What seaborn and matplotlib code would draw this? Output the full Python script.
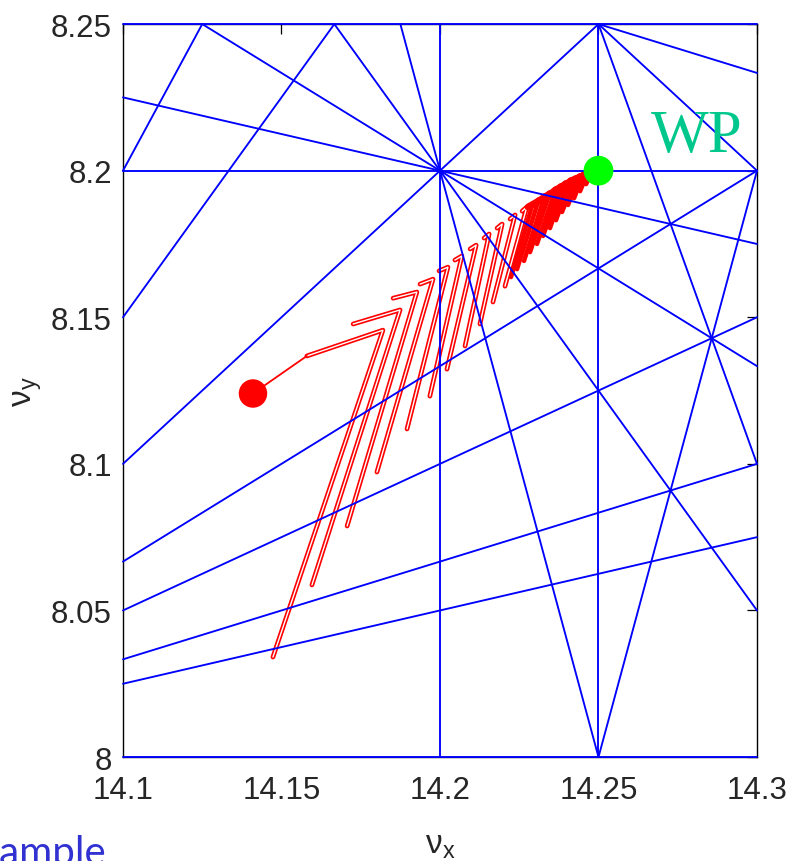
import numpy as np
import pandas as pd
import matplotlib
matplotlib.use("Agg")
import matplotlib.pyplot as plt
import matplotlib.patheffects as pe
import seaborn as sns

# Tune window
QX_LIM = (14.1, 14.3)
QY_LIM = (8.0, 8.25)

# Resonance lines m*Qx + n*Qy = p up to fifth order
res_m = [0, 0, 0, 5, 4, 1, 2, 1, 3, 1, 1, 2, 4, 4, 1, 1, 3, 3, 2, 2]
res_n = [1, 4, 5, 0, 0, -1, -1, -2, 1, 3, -3, 2, 1, -1, 4, -4, 2, -2, 3, -3]
res_p = [8, 33, 41, 71, 57, 6, 20, -2, 51, 39, -10, 45, 65, 49, 47, -18, 59, 26, 53, 4]

# Start point and working point
start_qx, start_qy = 14.141, 8.124
wp_qx, wp_qy = 14.25, 8.20

# Wide tune excursions: start of sweep -> tip -> end of sweep
wide_start_qx = [14.1580, 14.1726, 14.1852, 14.1937, 14.1997, 14.2047, 14.2095, 14.2139, 14.2180,
                 14.2221, 14.2259]
wide_start_qy = [8.1368, 8.1477, 8.1565, 8.1613, 8.1658, 8.1695, 8.1733, 8.1770, 8.1804,
                 8.1835, 8.1862]
wide_tip_qx = [14.1820, 14.1874, 14.1927, 14.1978, 14.2025, 14.2069, 14.2114, 14.2155, 14.2196,
               14.2237, 14.2274]
wide_tip_qy = [8.1456, 8.1525, 8.1586, 8.1630, 8.1671, 8.1709, 8.1746, 8.1784, 8.1818,
               8.1849, 8.1876]
wide_end_qx = [14.1473, 14.1596, 14.1707, 14.1801, 14.1896, 14.1968, 14.2022, 14.2079, 14.2126,
               14.2167, 14.2205]
wide_end_qy = [8.0341, 8.0587, 8.0788, 8.0972, 8.1119, 8.1231, 8.1323, 8.1402, 8.1477,
               8.1552, 8.1606]

# Small excursions close to the working point
near_start_qx = [14.2278, 14.2297, 14.2315, 14.2334, 14.2353, 14.2369, 14.2385, 14.2401,
                 14.2416, 14.2432, 14.2448, 14.2461, 14.2473]
near_start_qy = [8.1876, 8.1889, 8.1903, 8.1917, 8.1930, 8.1941, 8.1951, 8.1961,
                 8.1971, 8.1978, 8.1985, 8.1992, 8.1995]
near_tip_qx = [14.2293, 14.2312, 14.2331, 14.2347, 14.2366, 14.2382, 14.2397, 14.2413,
               14.2429, 14.2442, 14.2454, 14.2467, 14.2480]
near_tip_qy = [8.1889, 8.1903, 8.1917, 8.1927, 8.1941, 8.1951, 8.1961, 8.1971,
               8.1978, 8.1985, 8.1992, 8.1995, 8.1999]
near_end_qx = [14.2224, 14.2243, 14.2265, 14.2284, 14.2306, 14.2325, 14.2347, 14.2366,
               14.2385, 14.2404, 14.2423, 14.2442, 14.2461]
near_end_qy = [8.1637, 8.1664, 8.1692, 8.1722, 8.1750, 8.1777, 8.1804, 8.1831,
               8.1859, 8.1883, 8.1906, 8.1930, 8.1954]

x_ticks = [14.1, 14.15, 14.2, 14.25, 14.3]
x_tick_labels = ["14.1", "14.15", "14.2", "14.25", "14.3"]
y_ticks = [8.0, 8.05, 8.1, 8.15, 8.2, 8.25]
y_tick_labels = ["8", "8.05", "8.1", "8.15", "8.2", "8.25"]


def clip_to_window(m, n, p):
    """End points of the resonance line inside the tune window."""
    (x0, x1), (y0, y1) = QX_LIM, QY_LIM
    eps = 1e-9
    pts = []
    if n != 0:
        for x in (x0, x1):
            y = (p - m * x) / n
            if y0 - eps <= y <= y1 + eps:
                pts.append((x, y))
    if m != 0:
        for y in (y0, y1):
            x = (p - n * y) / m
            if x0 - eps <= x <= x1 + eps:
                pts.append((x, y))
    pts = sorted(set((round(a, 9), round(b, 9)) for a, b in pts))
    return pts[0], pts[-1]


def sweep_frame(sx, sy, tx, ty, ex, ey):
    rows = []
    for k in range(len(sx)):
        for step, (x, y) in enumerate([(sx[k], sy[k]), (tx[k], ty[k]), (ex[k], ey[k])]):
            rows.append(dict(sweep=k, step=step, qx=x, qy=y))
    return pd.DataFrame(rows)


rows = []
for i, (m, n, p) in enumerate(zip(res_m, res_n, res_p)):
    a, b = clip_to_window(m, n, p)
    rows.append(dict(line=i, qx=a[0], qy=a[1]))
    rows.append(dict(line=i, qx=b[0], qy=b[1]))
res_df = pd.DataFrame(rows)

wide_df = sweep_frame(wide_start_qx, wide_start_qy, wide_tip_qx, wide_tip_qy,
                      wide_end_qx, wide_end_qy)
near_df = sweep_frame(near_start_qx, near_start_qy, near_tip_qx, near_tip_qy,
                      near_end_qx, near_end_qy)
lead_df = pd.DataFrame(dict(qx=[start_qx, wide_start_qx[0]], qy=[start_qy, wide_start_qy[0]]))
settle_df = pd.DataFrame(dict(qx=[near_start_qx[0], near_tip_qx[-1], wp_qx],
                              qy=[near_start_qy[0], near_tip_qy[-1], wp_qy]))

sns.set_style("white")
plt.rcParams["font.family"] = ["Liberation Sans", "DejaVu Sans"]
plt.rcParams["mathtext.fontset"] = "custom"
plt.rcParams["mathtext.rm"] = "Liberation Sans"
plt.rcParams["mathtext.it"] = "Liberation Sans"

fig = plt.figure(figsize=(7.92, 8.62), dpi=100)
ax = fig.add_axes([0.1553, 0.1206, 0.8005, 0.8503])

# Tune path: wide sweeps are traced out and back (double line)
n0 = len(ax.lines)
sns.lineplot(data=wide_df, x="qx", y="qy", units="sweep", estimator=None, sort=False,
             color="#ff0000", linewidth=3.4, ax=ax)
for ln in ax.lines[n0:]:
    ln.set_path_effects([pe.Stroke(linewidth=3.4, foreground="#ff0000"),
                         pe.Stroke(linewidth=1.0, foreground="white")])
    ln.set_zorder(2)
n1 = len(ax.lines)
sns.lineplot(data=near_df, x="qx", y="qy", units="sweep", estimator=None, sort=False,
             color="#ff0000", linewidth=3.2, ax=ax)
sns.lineplot(data=settle_df, x="qx", y="qy", estimator=None, sort=False,
             color="#ff0000", linewidth=5.0, ax=ax)
sns.lineplot(data=lead_df, x="qx", y="qy", estimator=None, sort=False,
             color="#ff0000", linewidth=1.3, ax=ax)
for ln in ax.lines[n1:]:
    ln.set_zorder(2)

# Resonance lines
n2 = len(ax.lines)
sns.lineplot(data=res_df, x="qx", y="qy", units="line", estimator=None, sort=False,
             color="#0000ff", linewidth=1.35, ax=ax)
for ln in ax.lines[n2:]:
    ln.set_clip_on(False)
    ln.set_zorder(3)

sns.scatterplot(x=[start_qx], y=[start_qy], color="#ff0000", s=420, edgecolor="none",
                ax=ax, zorder=5)
sns.scatterplot(x=[wp_qx], y=[wp_qy], color="#00ff00", s=460, edgecolor="none",
                ax=ax, zorder=5)

ax.text(14.281, 8.2067, "WP", color="#00c88c", fontsize=44, ha="center", va="baseline",
        family=["Liberation Serif", "DejaVu Serif"], zorder=6)

ax.set_xlim(*QX_LIM)
ax.set_ylim(*QY_LIM)
ax.set_xticks(x_ticks)
ax.set_xticklabels(x_tick_labels)
ax.set_yticks(y_ticks)
ax.set_yticklabels(y_tick_labels)
ax.tick_params(axis="both", direction="in", top=True, right=True, length=7, width=0.9,
               color="black", labelsize=22.5)
ax.tick_params(axis="x", pad=13)
ax.tick_params(axis="y", pad=8)
for side in ("left", "right", "top", "bottom"):
    ax.spines[side].set_color("black")
    ax.spines[side].set_linewidth(1.0)

ax.set_xlabel(r"$\mathrm{\nu_x}$", fontsize=24)
ax.set_ylabel(r"$\mathrm{\nu_y}$", fontsize=24)
ax.xaxis.set_label_coords(0.5, -0.098)
ax.yaxis.set_label_coords(-0.125, 0.5)

fig.text(0.134, -0.004, "Example", color="#3232d2", fontsize=29, ha="right",
         va="baseline", family=["Lato", "DejaVu Sans"])

fig.savefig("out.png", dpi=100)
